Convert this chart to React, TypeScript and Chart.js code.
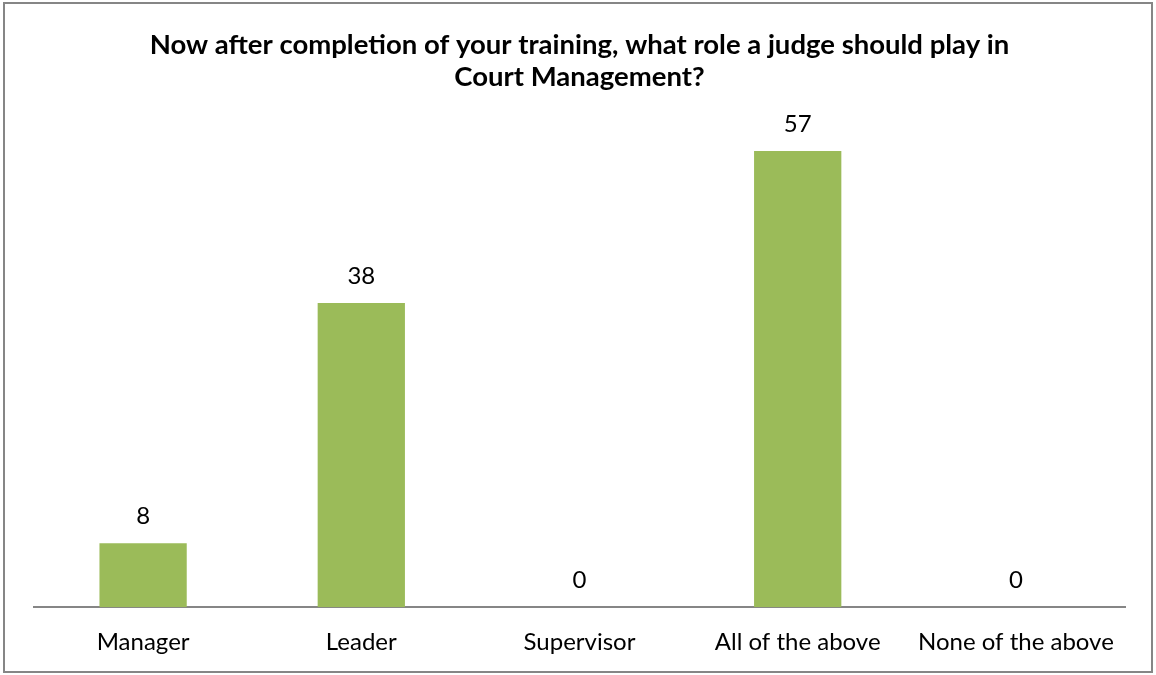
import React, { useEffect, useRef } from "react";
import { Chart, registerables } from "chart.js";

Chart.register(...registerables);

const categories = ["Manager", "Leader", "Supervisor", "All of the above", "None of the above"];
const values = [8, 38, 0, 57, 0];
const titleLines = [
  "Now after completion of your training, what role a judge should play in",
  "Court Management?",
];

const FONT = "Lato, 'Open Sans', sans-serif";

const valueLabels = {
  id: "valueLabels",
  afterDatasetsDraw(chart: any) {
    const ctx = chart.ctx;
    const meta = chart.getDatasetMeta(0);
    ctx.save();
    ctx.font = `24px ${FONT}`;
    ctx.fillStyle = "#000000";
    ctx.textAlign = "center";
    ctx.textBaseline = "middle";
    meta.data.forEach((bar: any, i: number) => {
      ctx.fillText(String(values[i]), bar.x, bar.y - 27);
    });
    ctx.restore();
  },
};

export default function App() {
  const ref = useRef<HTMLCanvasElement>(null);
  useEffect(() => {
    if (!ref.current) return;
    const chart = new Chart(ref.current, {
      type: "bar",
      data: {
        labels: categories,
        datasets: [
          {
            data: values,
            backgroundColor: "#9BBB59",
            categoryPercentage: 1,
            barPercentage: 0.4,
          },
        ],
      },
      options: {
        animation: false,
        responsive: false,
        layout: { padding: { left: 29, right: 26, top: 0, bottom: -7 } },
        plugins: {
          legend: { display: false },
          tooltip: { enabled: false },
          title: {
            display: true,
            text: titleLines,
            color: "#000000",
            font: { family: FONT, size: 27.5, weight: "bold", lineHeight: 1.164 },
            padding: { top: 25, bottom: 34 },
          },
        },
        scales: {
          x: {
            grid: { display: false, drawTicks: false },
            border: { display: true, color: "#868686", width: 2 },
            ticks: {
              color: "#000000",
              font: { family: FONT, size: 24 },
              padding: 21,
              maxRotation: 0,
              autoSkip: false,
            },
          },
          y: {
            display: false,
            min: 0,
            max: 60,
          },
        },
      },
      plugins: [valueLabels],
    });
    return () => chart.destroy();
  }, []);
  return (
    <div
      style={{
        position: "fixed",
        left: 3,
        top: 2,
        width: 1150,
        height: 671,
        border: "2px solid #868686",
        boxSizing: "border-box",
        background: "#ffffff",
      }}
    >
      <canvas ref={ref} width={1146} height={667} style={{ display: "block" }} />
    </div>
  );
}
